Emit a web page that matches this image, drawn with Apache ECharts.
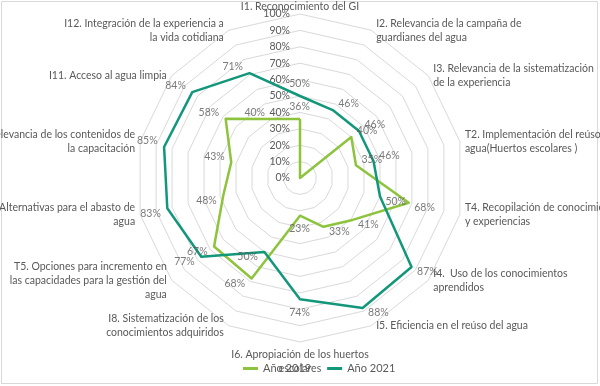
<!DOCTYPE html>
<html>
<head>
<meta charset="utf-8">
<script src="https://cdn.jsdelivr.net/npm/echarts@6/dist/echarts.min.js"></script>
<style>
html,body{margin:0;padding:0;background:#fff;}
#chart{width:600px;height:386px;}
</style>
</head>
<body>
<div id="chart"></div>
<script>
// Categories in clockwise order starting at the top
var categories = [
  'I1. Reconocimiento del GI',
  'I2. Relevancia de la campaña de\nguardianes del agua',
  'I3. Relevancia de la sistematización\nde la experiencia',
  'T2. Implementación del reúso del\nagua(Huertos escolares )',
  'T4. Recopilación de conocimientos\ny experiencias',
  'I4.  Uso de los conocimientos\naprendidos',
  'I5. Eficiencia en el reúso del agua',
  'I6. Apropiación de los huertos\nescolares',
  'I8. Sistematización de los\nconocimientos adquiridos',
  'T5. Opciones para incremento en\nlas capacidades para la gestión del\nagua',
  'Alternativas para el abasto de\nagua',
  'I10. Relevancia de los contenidos de\nla capacitación',
  'I11. Acceso al agua limpia',
  'I12. Integración de la experiencia a\nla vida cotidiana'
];
var values2019 = [0.36, 0.00, 0.40, 0.35, 0.68, 0.41, 0.33, 0.23, 0.68, 0.67, 0.48, 0.43, 0.58, 0.40];
var values2021 = [0.50, 0.46, 0.46, 0.46, 0.50, 0.87, 0.88, 0.74, 0.50, 0.77, 0.83, 0.85, 0.84, 0.71];
var seriesNames = ['Año 2019', 'Año 2021'];
var tickMin = 0, tickMax = 1, tickStep = 0.1;

var C2019 = '#8DC33D';
var C2021 = '#12977A';
var FONT = 'Lato';
var TXT = '#595959';

// radar lays indicators counter-clockwise: reorder keeping the first one on top
function toRadarOrder(arr) {
  var out = [arr[0]];
  for (var i = arr.length - 1; i >= 1; i--) out.push(arr[i]);
  return out;
}
var radarCats = toRadarOrder(categories);
var indicators = radarCats.map(function (n) {
  return { name: n, min: tickMin, max: tickMax };
});

function labelPoints(vals) {
  var n = vals.length;
  return vals.map(function (v, i) {
    var th = i * 2 * Math.PI / n;
    var s = Math.sin(th), c = Math.cos(th);
    var align = s > 0.1 ? 'left' : (s < -0.1 ? 'right' : 'center');
    var vAlign = c > 0 ? 'bottom' : 'top';
    var ox = align === 'left' ? 6 : (align === 'right' ? -6 : 0);
    var oy = align === 'center' ? (c > 0 ? -6 : 8) : 0;
    return {
      value: [v, i],
      label: {
        show: v > 0,
        position: [0, 0],
        align: align,
        verticalAlign: vAlign,
        offset: [ox, oy]
      }
    };
  });
}

var chart = echarts.init(document.getElementById('chart'), null, { renderer: 'canvas' });
chart.setOption({
  backgroundColor: '#ffffff',
  animation: false,
  graphic: [{
    type: 'rect', silent: true, z: -1,
    shape: { x: 1.5, y: 1.5, width: 596, height: 382 },
    style: { fill: 'none', stroke: '#d9d9d9', lineWidth: 1 }
  }],
  legend: {
    data: seriesNames,
    left: 238, top: 358,
    icon: 'rect', itemWidth: 15, itemHeight: 3, itemGap: 16,
    textStyle: { color: TXT, fontFamily: FONT, fontSize: 11 }
  },
  radar: {
    center: [300, 178],
    radius: 164,
    startAngle: 90,
    shape: 'polygon',
    splitNumber: 10,
    nameGap: 0,
    axisName: {
      color: TXT, fontFamily: FONT, fontSize: 10.5, lineHeight: 14,
      padding: [6, 5, 0, 5]
    },
    axisLine: { show: false },
    axisTick: { show: false },
    axisLabel: { show: false },
    splitArea: { show: false },
    splitLine: { lineStyle: { color: '#d9d9d9', width: 1 } },
    indicator: indicators
  },
  polar: { center: [300, 178], radius: 164 },
  angleAxis: { type: 'value', min: 0, max: categories.length, startAngle: 90, clockwise: true, show: false },
  radiusAxis: {
    type: 'value', min: tickMin, max: tickMax, interval: tickStep,
    axisLine: { show: false }, axisTick: { show: false }, splitLine: { show: false },
    axisLabel: {
      show: true, margin: 10, color: TXT, fontFamily: FONT, fontSize: 10.5,
      formatter: function (v) { return Math.round(v * 100) + '%'; }
    }
  },
  series: [{
    type: 'radar',
    symbol: 'none',
    data: [
      { name: seriesNames[0], value: toRadarOrder(values2019),
        lineStyle: { color: C2019, width: 2.5 }, itemStyle: { color: C2019 } },
      { name: seriesNames[1], value: toRadarOrder(values2021),
        lineStyle: { color: C2021, width: 2.5 }, itemStyle: { color: C2021 } }
    ]
  }, {
    type: 'scatter', coordinateSystem: 'polar', symbolSize: 1, silent: true,
    itemStyle: { color: 'transparent' },
    label: { color: TXT, fontFamily: FONT, fontSize: 10.5,
      formatter: function (p) { return Math.round(p.value[0] * 100) + '%'; } },
    data: labelPoints(values2019)
  }, {
    type: 'scatter', coordinateSystem: 'polar', symbolSize: 1, silent: true,
    itemStyle: { color: 'transparent' },
    label: { color: TXT, fontFamily: FONT, fontSize: 10.5,
      formatter: function (p) { return Math.round(p.value[0] * 100) + '%'; } },
    data: labelPoints(values2021)
  }]
});
</script>
</body>
</html>
